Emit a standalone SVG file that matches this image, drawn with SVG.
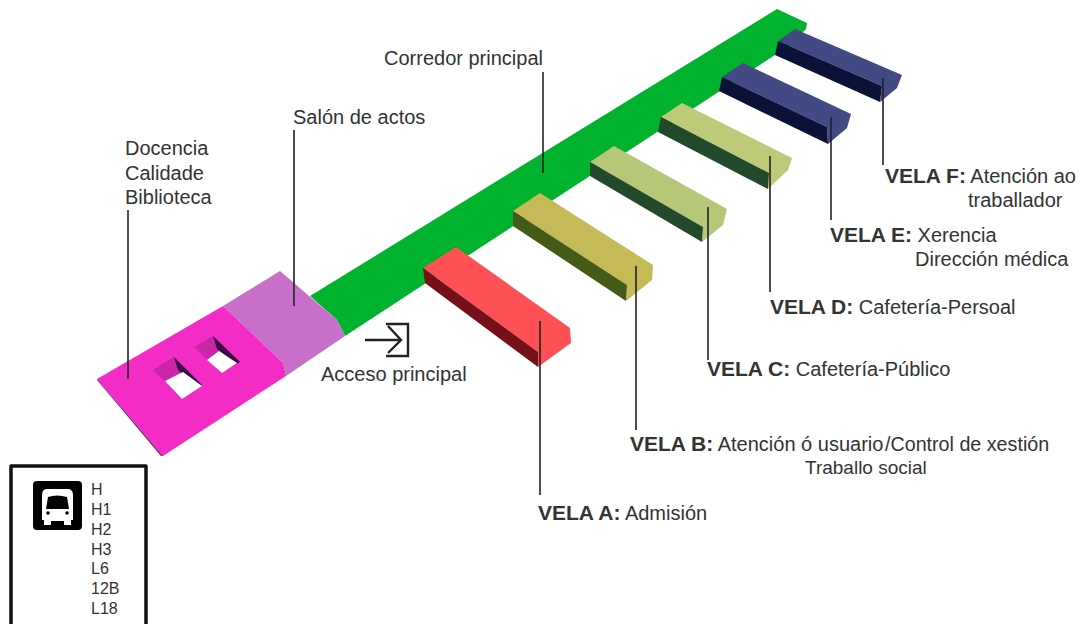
<svg xmlns="http://www.w3.org/2000/svg" width="1082" height="624" viewBox="0 0 1082 624">
<style>
text{font-family:"Liberation Sans",Arial,sans-serif;font-size:20px;fill:#333}
.b{font-weight:bold;font-size:21px}
.s{font-size:16px}
.l{stroke:#222;stroke-width:1.6;fill:none}
</style>
<rect width="1082" height="624" fill="#fff"/>
<g id="corredor"><path d="M310 296L777 9L807 23L806 29L790 45L775 55L345 336L337 320Z" fill="#00b22d"/></g>
<g id="salon"><path d="M223 306L280 271L337 320L345 336L286 376L283 363Z" fill="#c76fc9"/></g>
<g id="docencia">
<path d="M97 379L223 306L283 363L286 376L163 456Z" fill="#f22cc4"/>
<path d="M97 379L163 456L161 456L97 380Z" fill="#7a1a70"/>
<path d="M153 370L174 357L202 386L182 399L165 381Z" fill="#c926a8"/>
<path d="M174 357L202 385L198 387L178 370Z" fill="#3a0a45"/>
<path d="M165 381L183 372L202 386L182 399Z" fill="#fff"/>
<path d="M194 347L213 336L240 362L222 373L207 360Z" fill="#c926a8"/>
<path d="M213 336L240 362L236 364L217 349Z" fill="#3a0a45"/>
<path d="M207 360L219 351L237 363L222 373Z" fill="#fff"/>
</g>
<g id="vela-a"><path d="M423 268L456 247L570 328L571 343L538 367L538 352Z" fill="#fe5156"/><path d="M423 268L538 352L538 367L425 283Z" fill="#761018"/></g>
<g id="vela-b"><path d="M513 211L540 193L653 265L652 280L626 301L627 285Z" fill="#c4bb58"/><path d="M513 211L627 285L626 301L513 226Z" fill="#465a18"/></g>
<g id="vela-c"><path d="M590 162L614 146L727 209L723 225L702 242L703 227Z" fill="#b6c878"/><path d="M590 162L703 227L702 242L590 176Z" fill="#22492a"/></g>
<g id="vela-d"><path d="M661 117L682 103L792 158L788 170L768 189L769 173Z" fill="#bdcb78"/><path d="M661 117L769 173L768 189L658 132Z" fill="#22492a"/></g>
<g id="vela-e"><path d="M722 77L743 63L851 114L847 128L828 144L827 127Z" fill="#414a83"/><path d="M722 77L827 127L828 144L719 91Z" fill="#0a1238"/></g>
<g id="vela-f"><path d="M778 41L795 29L902 75L897 88L880 102L882 86Z" fill="#414a83"/><path d="M778 41L882 86L880 102L775 55Z" fill="#0a1238"/></g>
<g id="connectors">
<path class="l" d="M128 210V379M294 130V306M543 72V173M540 321V495M636 266V430M708 207V360M770 156V292M831 117V220M883 78V165"/>
<path d="M365 340H401M388 326L401 340L388 353M386 324H408V356H386" fill="none" stroke="#222" stroke-width="2.4"/>
</g>
<g id="labels">
<text x="125" y="155">Docencia</text><text x="125" y="180">Calidade</text><text x="125" y="204">Biblioteca</text>
<text x="293" y="124">Salón de actos</text>
<text x="384" y="65">Corredor principal</text>
<text x="321" y="381">Acceso principal</text>
<text x="538" y="520"><tspan class="b">VELA A:</tspan> Admisión</text>
<text x="630" y="451"><tspan class="b">VELA B:</tspan> Atención ó usuario</text>
<text x="885" y="451" style="font-size:19.7px">/Control de xestión</text>
<text x="805" y="474" style="font-size:19px">Traballo social</text>
<text x="707" y="376"><tspan class="b">VELA C:</tspan> Cafetería-Público</text>
<text x="770" y="314"><tspan class="b">VELA D:</tspan> Cafetería-Persoal</text>
<text x="830" y="242"><tspan class="b">VELA E:</tspan> Xerencia</text>
<text x="915" y="266">Dirección médica</text>
<text x="885" y="183"><tspan class="b">VELA F:</tspan> Atención ao</text>
<text x="968" y="207">traballador</text>
</g>
<g id="bus-legend">
<path d="M11 624V466H146V624" fill="none" stroke="#111" stroke-width="3.5" stroke-linejoin="round"/>
<rect x="33" y="481" width="49" height="49" rx="4" fill="#000"/>
<path d="M46 489H69Q73 490 73 495V520H71V525H64V521H51V525H44V520H42V495Q42 490 46 489Z" fill="#fff"/>
<path d="M48 497Q57 494 67 497L69 509H46Z" fill="#000"/>
<circle cx="48" cy="513" r="1.8" fill="#000"/><circle cx="67" cy="513" r="1.8" fill="#000"/>
<text class="s" x="91" y="495">H</text><text class="s" x="91" y="515">H1</text><text class="s" x="91" y="535">H2</text><text class="s" x="91" y="555">H3</text><text class="s" x="91" y="574">L6</text><text class="s" x="91" y="594">12B</text><text class="s" x="91" y="614">L18</text>
</g>
</svg>
